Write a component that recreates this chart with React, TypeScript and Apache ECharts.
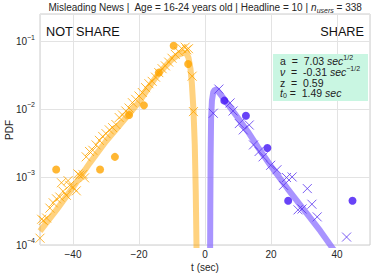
import React, { useEffect, useRef } from "react";
import * as echarts from "echarts";

const FONT = '"Liberation Sans", Arial, sans-serif';

// Fitted curves (t in sec, PDF)
const notShareCurve: [number, number][] = [
  [-50, 1.6e-4], [-45, 3.3e-4], [-40, 7.1e-4], [-35, 1.6e-3], [-30, 3.4e-3],
  [-25, 6.6e-3], [-20, 0.0129], [-15, 0.0295], [-12, 0.0437], [-10, 0.055],
  [-8, 0.0645], [-6.5, 0.069], [-5.5, 0.066], [-5.0, 0.058], [-4.4, 0.040],
  [-4.0, 0.025], [-3.5, 0.010], [-3.1, 0.003], [-2.8, 6e-4], [-2.6, 1.2e-4], [-2.5, 4e-5],
];
const shareCurve: [number, number][] = [
  [1.55, 8e-5], [1.6, 3e-4], [1.7, 0.002], [1.85, 0.0075], [2.1, 0.0135],
  [2.5, 0.018], [3.0, 0.0197], [3.6, 0.0195], [5, 0.016], [7, 0.0118],
  [10, 0.0075], [13, 0.0047], [16, 0.0028], [20, 0.00145], [25, 0.00068],
  [30, 0.00033], [35, 0.00016], [39, 0.000085],
];

// Empirical histogram (crosses)
const notShareCrosses: [number, number][] = [
  [-50, 1.26e-4], [-49.5, 2.4e-4], [-49, 2.3e-4], [-48, 2.5e-4], [-47, 3.5e-4],
  [-46, 4.2e-4], [-45, 4.8e-4], [-44, 5.1e-4], [-43.5, 8.3e-4], [-43, 6.2e-4],
  [-42, 5.4e-4], [-41.5, 8.9e-4], [-41, 7.6e-4], [-40, 7.1e-4], [-39, 6.3e-4],
  [-38.5, 1.12e-3], [-38, 1.07e-3], [-37, 1.1e-3], [-36.5, 9.8e-4], [-36, 2.0e-3],
  [-35, 2.4e-3], [-34, 2.5e-3], [-33, 3.0e-3], [-32, 3.5e-3], [-31, 4.0e-3],
  [-30, 4.4e-3], [-29, 5.0e-3], [-28, 5.4e-3], [-27, 6.0e-3], [-26, 7.6e-3],
  [-25, 8.3e-3], [-24, 9.5e-3], [-23, 0.0105], [-22, 0.0126], [-21, 0.0141],
  [-20, 0.0158], [-19, 0.0178], [-18, 0.021], [-17, 0.024], [-16, 0.026],
  [-15, 0.030], [-14, 0.035], [-13, 0.040], [-12, 0.044], [-11, 0.050],
  [-10, 0.057], [-9, 0.065], [-8, 0.072], [-7, 0.079], [-6, 0.083],
  [-5.5, 0.076], [-5, 0.079], [-3.9, 0.031], [-3.5, 0.0093],
];
const shareCrosses: [number, number][] = [
  [2.5, 0.0088], [4.2, 0.020], [7.6, 0.0125], [8.5, 0.0095], [10.4, 0.0062],
  [11.6, 0.0050], [13.4, 0.0059], [14.7, 0.0030], [16.4, 0.0024], [17.6, 0.0020],
  [19.9, 0.0015], [21.8, 0.00129], [23.8, 0.00076], [24.7, 0.00099], [26.4, 0.00101],
  [28.2, 0.00033], [29.4, 0.00034], [31.0, 0.00068], [32.4, 0.00040], [34.0, 0.00026],
  [42.9, 0.000131],
];

// Coarser bins (circles)
const notShareCircles: [number, number][] = [
  [-45.1, 0.0013], [-31.8, 0.0013], [-27.3, 0.0020], [-23, 0.0083],
  [-18.5, 0.0115], [-14, 0.035], [-9.5, 0.087], [-5.1, 0.047],
];
const shareCircles: [number, number][] = [
  [5.85, 0.0135], [12.4, 0.0081], [18.9, 0.0027], [25.2, 0.00045], [44.7, 0.00045],
];

const paramLines = [
  "a  =  7.03 {it|sec}{sup|1/2}",
  "{it|ν}  =  -0.31 {it|sec}{sup|−1/2}",
  "z  =  0.59",
  "{it|t}{sub|0} =  1.49 {it|sec}",
];

const ORANGE = "#ffa500";
const PURPLE_M = "#4214f5";
const PURPLE_X = "#5a34f0";
const PURPLE_LINE = "#8c70ff";
const CROSS = "path://M0,0L10,10M10,0L0,10";

export default function App() {
  const ref = useRef<HTMLDivElement>(null);
  useEffect(() => {
    if (!ref.current) return;
    const chart = echarts.init(ref.current, null, { renderer: "svg" });
    const richLegend = {
      it: { fontStyle: "italic", fontSize: 10.5, fontFamily: FONT, fill: "#222" },
      sup: { fontSize: 7, verticalAlign: "top", lineHeight: 14, fontFamily: FONT },
      sub: { fontSize: 7, verticalAlign: "bottom", lineHeight: 12, fontFamily: FONT },
    };
    chart.setOption({
      animation: false,
      backgroundColor: "#ffffff",
      grid: {
        left: 40, top: 14, width: 330, height: 231,
        show: true, borderColor: "#cccccc", borderWidth: 1,
      },
      xAxis: {
        type: "value", min: -50, max: 50, splitNumber: 5,
        axisLine: { show: false }, axisTick: { show: false },
        splitLine: { show: true, lineStyle: { color: "#e3e3e3", width: 1 } },
        axisLabel: {
          fontFamily: FONT, fontSize: 10, color: "#262626", margin: 4,
          formatter: (v: number) => (Math.abs(v) >= 50 ? "" : String(v).replace("-", "−")),
        },
      },
      yAxis: {
        type: "log", logBase: 10, min: 1e-4, max: 0.2565,
        axisLine: { show: false }, axisTick: { show: false },
        splitLine: { show: true, lineStyle: { color: "#e3e3e3", width: 1 } },
        axisLabel: {
          fontFamily: FONT, fontSize: 10, color: "#262626", margin: 5,
          formatter: (v: number) => {
            const e = Math.log10(v);
            const r = Math.round(e);
            if (Math.abs(e - r) > 1e-6) return "";
            return "10{sup|" + (r < 0 ? "−" + -r : String(r)) + "}";
          },
          rich: {
            sup: { fontSize: 7, verticalAlign: "top", lineHeight: 16, fontFamily: FONT, color: "#262626" },
          },
        },
      },
      series: [
        {
          type: "line", data: notShareCurve, showSymbol: false, symbol: "none",
          lineStyle: { color: ORANGE, width: 6, opacity: 0.5 }, z: 2, clip: true,
        },
        {
          type: "line", data: shareCurve, showSymbol: false, symbol: "none",
          lineStyle: { color: PURPLE_LINE, width: 6, opacity: 0.75 }, z: 2, clip: true,
        },
        {
          type: "scatter", data: notShareCrosses, symbol: CROSS, symbolSize: 9,
          itemStyle: { color: "transparent", borderColor: ORANGE, borderWidth: 1 }, z: 3,
        },
        {
          type: "scatter", data: shareCrosses, symbol: CROSS, symbolSize: 9,
          itemStyle: { color: "transparent", borderColor: PURPLE_X, borderWidth: 1 }, z: 3,
        },
        {
          type: "scatter", data: notShareCircles, symbol: "circle", symbolSize: 8,
          itemStyle: { color: ORANGE }, z: 4,
        },
        {
          type: "scatter", data: shareCircles, symbol: "circle", symbolSize: 8,
          itemStyle: { color: PURPLE_M }, z: 4,
        },
      ],
      graphic: [
        {
          type: "text", x: 205, y: 7,
          style: {
            text: "Misleading News |  Age = 16-24 years old | Headline = 10 | {i|n}{sub|users} = 338",
            fontFamily: FONT, fontSize: 10, fill: "#262626", align: "center", verticalAlign: "middle",
            rich: {
              i: { fontStyle: "italic", fontSize: 10, fontFamily: FONT, fill: "#262626" },
              sub: { fontStyle: "italic", fontSize: 7, verticalAlign: "bottom", lineHeight: 13, fontFamily: FONT, fill: "#262626" },
            },
          },
        },
        {
          type: "text", x: 46, y: 32,
          style: { text: "NOT SHARE", fontFamily: FONT, fontSize: 12.7, fill: "#111", align: "left", verticalAlign: "middle" },
        },
        {
          type: "text", x: 364, y: 32,
          style: { text: "SHARE", fontFamily: FONT, fontSize: 12.7, fill: "#111", align: "right", verticalAlign: "middle" },
        },
        {
          type: "rect", shape: { x: 273, y: 54, width: 95, height: 47 },
          style: { fill: "#c9f6e2" }, z: 10,
        },
        ...paramLines.map((t, i) => ({
          type: "text", x: 280, y: 61 + i * 10.8, z: 11,
          style: {
            text: t, fontFamily: FONT, fontSize: 10.5, fill: "#222",
            align: "left", verticalAlign: "middle", rich: richLegend,
          },
        })),
        {
          type: "text", x: 9, y: 130, rotation: Math.PI / 2,
          style: { text: "PDF", fontFamily: FONT, fontSize: 10, fill: "#262626", align: "center", verticalAlign: "middle" },
        },
        {
          type: "text", x: 205, y: 267,
          style: { text: "t (sec)", fontFamily: FONT, fontSize: 10, fill: "#262626", align: "center", verticalAlign: "middle" },
        },
      ],
    });
    return () => chart.dispose();
  }, []);
  return <div ref={ref} style={{ width: 374, height: 275, position: "absolute", left: 0, top: 0 }} />;
}
